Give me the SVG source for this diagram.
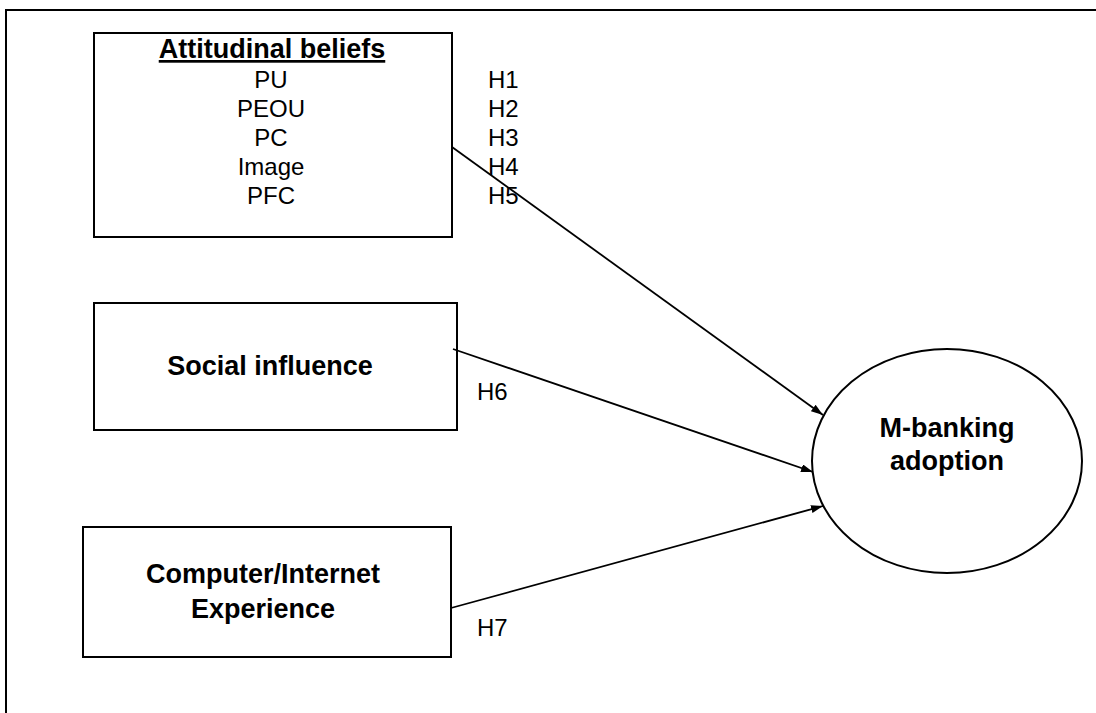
<svg xmlns="http://www.w3.org/2000/svg" width="1096" height="713" viewBox="0 0 1096 713">
<style>
.box{fill:#fff;stroke:#000;stroke-width:2}
.t{font-family:"Liberation Sans",Arial,sans-serif;fill:#000}
.b{font-weight:bold;font-size:27px}
.r{font-size:24px}
.c{stroke:#000;stroke-width:1.8;fill:none}
</style>
<defs>
<marker id="ah" viewBox="0 0 12 8" refX="12" refY="4" markerWidth="12" markerHeight="8" markerUnits="userSpaceOnUse" orient="auto">
<path d="M0,0 L12,4 L0,8 Z" fill="#000"/>
</marker>
</defs>
<rect width="1096" height="713" fill="#fff"/>
<path d="M6,713 V10 H1096" fill="none" stroke="#000" stroke-width="2"/>
<g id="attitudinal">
<rect class="box" x="94" y="33" width="358" height="204"/>
<text class="t b" x="272" y="58" text-anchor="middle" text-decoration="underline">Attitudinal beliefs</text>
<text class="t r" x="271" y="88" text-anchor="middle">PU</text>
<text class="t r" x="271" y="117" text-anchor="middle">PEOU</text>
<text class="t r" x="271" y="146" text-anchor="middle">PC</text>
<text class="t r" x="271" y="175" text-anchor="middle">Image</text>
<text class="t r" x="271" y="204" text-anchor="middle">PFC</text>
</g>
<g id="social">
<rect class="box" x="94" y="303" width="363" height="127"/>
<text class="t b" x="270" y="375" text-anchor="middle">Social influence</text>
</g>
<g id="computer">
<rect class="box" x="83" y="527" width="368" height="130"/>
<text class="t b" x="263" y="583" text-anchor="middle">Computer/Internet</text>
<text class="t b" x="263" y="618" text-anchor="middle">Experience</text>
</g>
<g id="mbanking">
<ellipse cx="947" cy="461" rx="135" ry="112" fill="#fff" stroke="#000" stroke-width="2"/>
<text class="t b" x="947" y="437" text-anchor="middle">M-banking</text>
<text class="t b" x="947" y="470" text-anchor="middle">adoption</text>
</g>
<g id="connectors">
<line class="c" x1="452" y1="147" x2="823" y2="415" marker-end="url(#ah)"/>
<line class="c" x1="453" y1="349" x2="813" y2="472" marker-end="url(#ah)"/>
<line class="c" x1="451" y1="608" x2="823" y2="506" marker-end="url(#ah)"/>
</g>
<g id="labels">
<text class="t r" x="488" y="88">H1</text>
<text class="t r" x="488" y="117">H2</text>
<text class="t r" x="488" y="146">H3</text>
<text class="t r" x="488" y="175">H4</text>
<text class="t r" x="488" y="204">H5</text>
<text class="t r" x="477" y="400">H6</text>
<text class="t r" x="477" y="636">H7</text>
</g>
</svg>
